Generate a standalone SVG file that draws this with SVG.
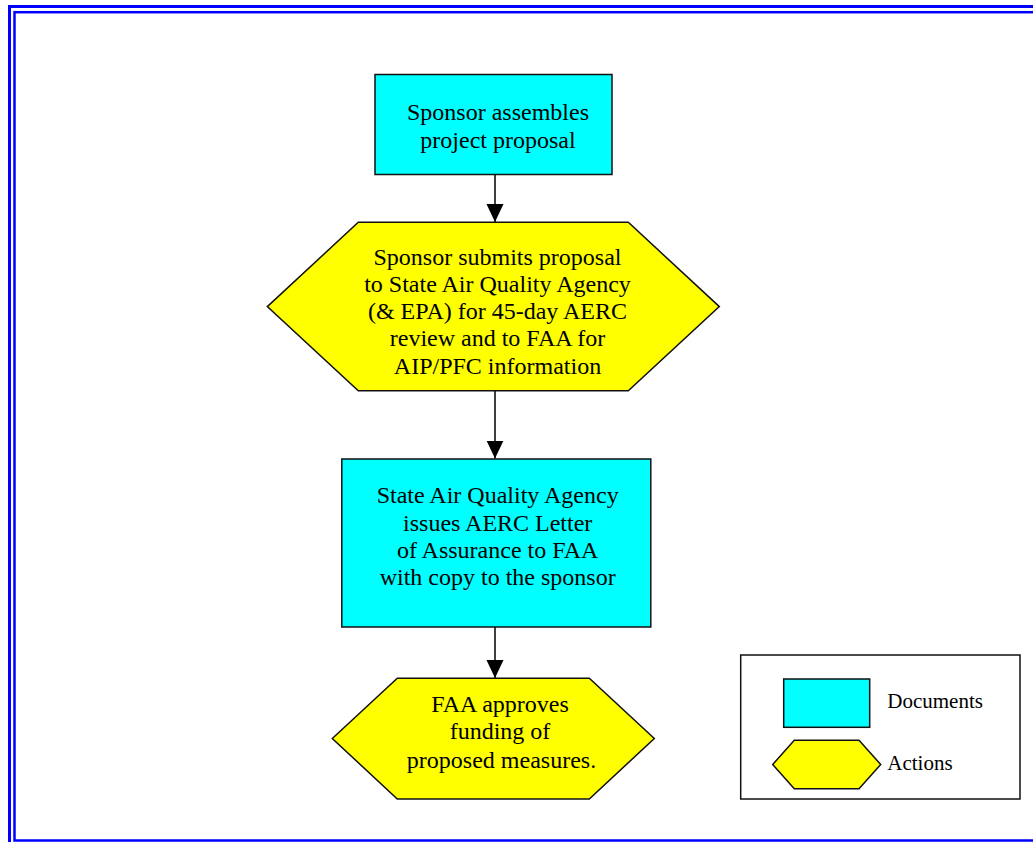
<svg xmlns="http://www.w3.org/2000/svg" width="1033" height="842" viewBox="0 0 1033 842">
<defs>
<style>
.doc{fill:#00FFFF;stroke:#111;stroke-width:1.5}
.act{fill:#FFFF00;stroke:#111;stroke-width:1.5}
.t{font-family:"Liberation Serif","Times New Roman",serif;font-size:24px;fill:#000;text-anchor:middle}
.lt{font-family:"Liberation Serif","Times New Roman",serif;font-size:21px;fill:#000}
.edge{stroke:#000;stroke-width:1.5;fill:none}
.frame{fill:none;stroke:#0000FF}
</style>
<marker id="ah" markerUnits="userSpaceOnUse" markerWidth="18" markerHeight="19" refX="19" refY="9" orient="auto" viewBox="0 0 19 18">
<path d="M0,0 L19,9 L0,18 Z" fill="#000"/>
</marker>
</defs>
<rect width="1033" height="842" fill="#fff"/>
<g id="frame">
<rect class="frame" x="9.5" y="6.5" width="1040" height="850" stroke-width="3"/>
<rect class="frame" x="14.5" y="12.2" width="1030" height="828.3" stroke-width="2.5"/>
</g>
<g id="connectors">
<line class="edge" x1="495" y1="174.5" x2="495" y2="222" marker-end="url(#ah)"/>
<line class="edge" x1="495" y1="391" x2="495" y2="458.5" marker-end="url(#ah)"/>
<line class="edge" x1="495" y1="627" x2="495" y2="678" marker-end="url(#ah)"/>
</g>
<g id="n1">
<rect class="doc" x="375" y="74.5" width="237" height="100"/>
<text class="t" x="498" y="120">Sponsor assembles</text>
<text class="t" x="498" y="147.7">project proposal</text>
</g>
<g id="n2">
<polygon class="act" points="267.3,306.6 358.3,222.3 628.3,222.3 719.3,306.6 628.3,390.8 358.3,390.8"/>
<text class="t" x="497.5" y="265">Sponsor submits proposal</text>
<text class="t" x="497.5" y="291.8">to State Air Quality Agency</text>
<text class="t" x="497.5" y="319.3">(&amp; EPA) for 45-day AERC</text>
<text class="t" x="497.5" y="346.2">review and to FAA for</text>
<text class="t" x="497.5" y="374">AIP/PFC information</text>
</g>
<g id="n3">
<rect class="doc" x="341.8" y="459" width="309" height="168"/>
<text class="t" x="497.7" y="503.3">State Air Quality Agency</text>
<text class="t" x="497.7" y="531">issues AERC Letter</text>
<text class="t" x="497.7" y="558.3">of Assurance to FAA</text>
<text class="t" x="497.7" y="585.2">with copy to the sponsor</text>
</g>
<g id="n4">
<polygon class="act" points="332.3,738.5 397.3,678.3 589.3,678.3 654.3,738.5 589.3,799 397.3,799"/>
<text class="t" x="500" y="711.7">FAA approves</text>
<text class="t" x="500" y="739">funding of</text>
<text class="t" x="501.5" y="767.7">proposed measures.</text>
</g>
<g id="legend">
<rect x="740.7" y="655" width="279.3" height="144" fill="#fff" stroke="#111" stroke-width="1.5"/>
<rect class="doc" x="783.7" y="679" width="86" height="48.3"/>
<polygon class="act" points="772.7,764.5 794.3,740.3 859,740.3 880.7,764.5 859,788.7 794.3,788.7"/>
<text class="lt" x="887.3" y="708.3">Documents</text>
<text class="lt" x="887.3" y="770">Actions</text>
</g>
</svg>
